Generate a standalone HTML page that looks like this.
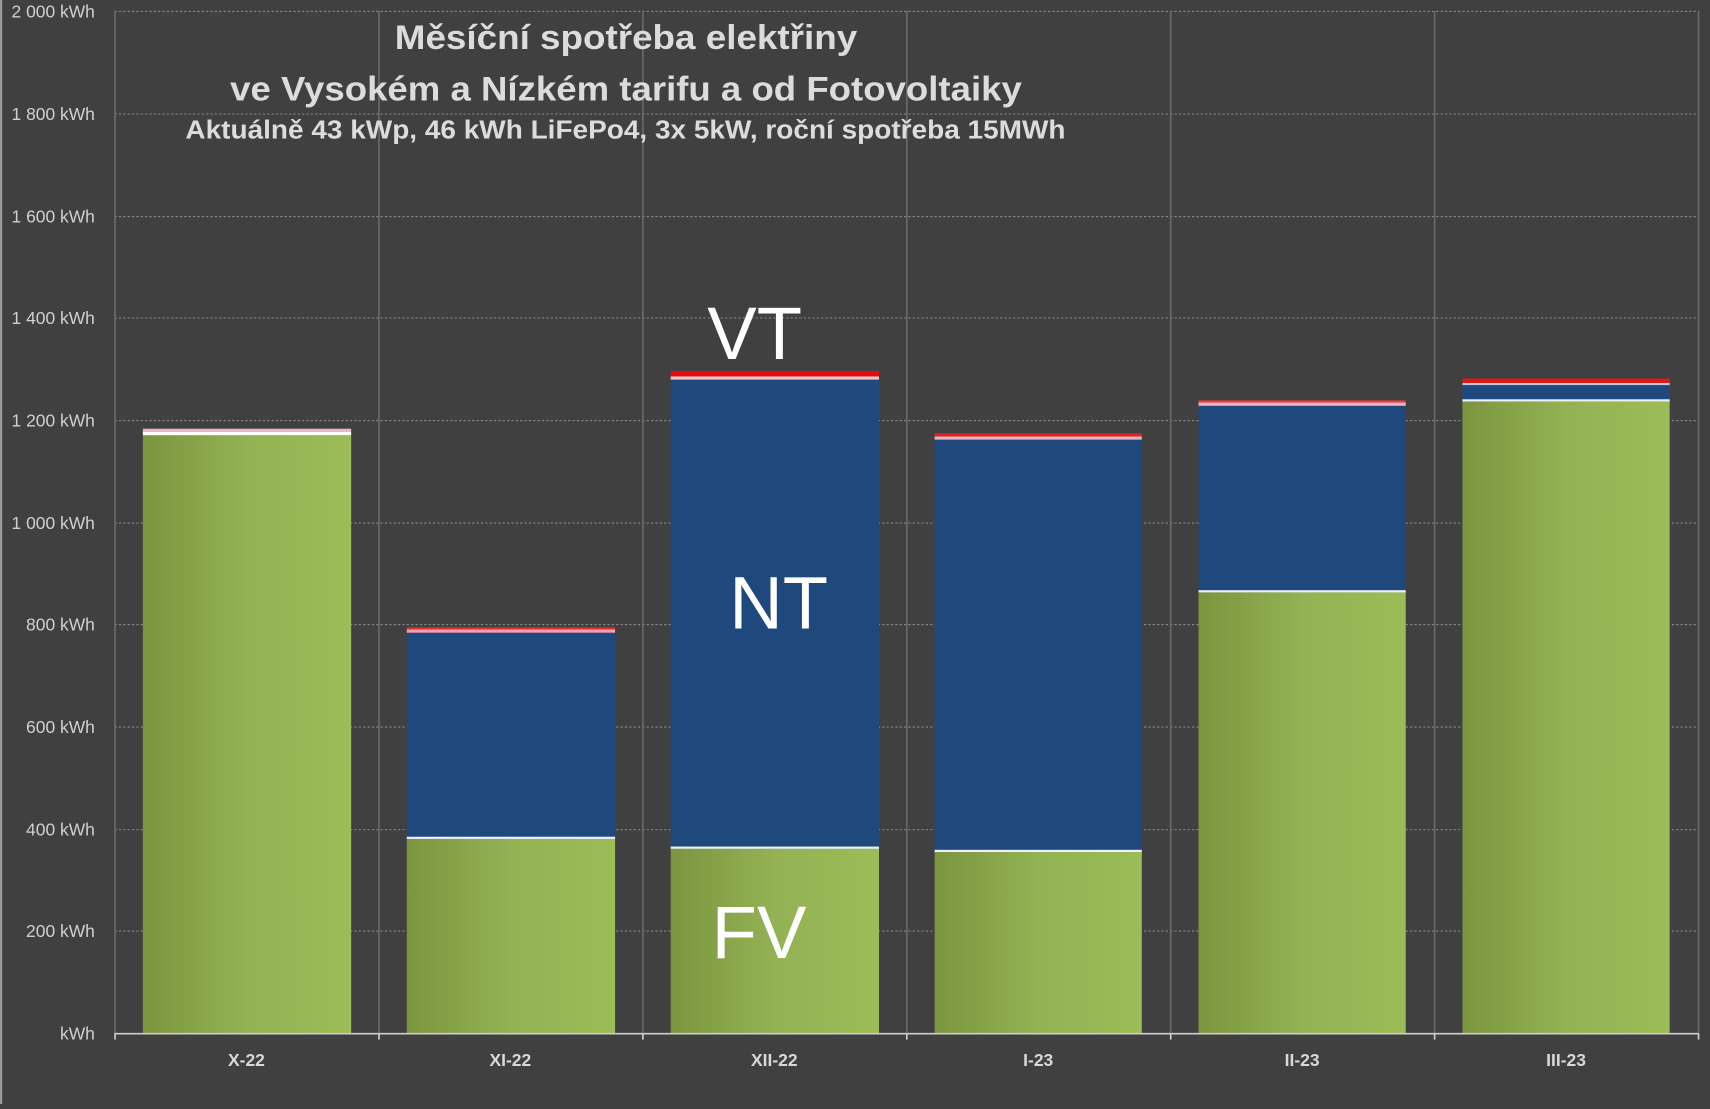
<!DOCTYPE html>
<html><head><meta charset="utf-8"><style>html,body{margin:0;padding:0;background:#404040;overflow:hidden}</style></head>
<body>
<svg width="1710" height="1104" viewBox="0 0 1568 1012" xmlns="http://www.w3.org/2000/svg" preserveAspectRatio="none">
<defs>
<linearGradient id="g" x1="0" x2="1" y1="0" y2="0"><stop offset="0" stop-color="#7b953f"/><stop offset="0.5" stop-color="#93b254"/><stop offset="1" stop-color="#9bbc57"/></linearGradient>
</defs>
<rect width="1568" height="1012" fill="#404040"/>
<rect x="0" y="0" width="2" height="1012" fill="#9a9a9a"/>
<g stroke="#8a8a8a" stroke-width="1" stroke-dasharray="2,2">
<line x1="105" x2="1557" y1="10.5" y2="10.5"/><line x1="105" x2="1557" y1="104.5" y2="104.5"/><line x1="105" x2="1557" y1="198.5" y2="198.5"/><line x1="105" x2="1557" y1="291.5" y2="291.5"/><line x1="105" x2="1557" y1="385.5" y2="385.5"/><line x1="105" x2="1557" y1="479.5" y2="479.5"/><line x1="105" x2="1557" y1="572.5" y2="572.5"/><line x1="105" x2="1557" y1="666.5" y2="666.5"/><line x1="105" x2="1557" y1="760.5" y2="760.5"/><line x1="105" x2="1557" y1="853.5" y2="853.5"/>
</g>
<g stroke="#6a6a6a" stroke-width="1.5">
<line x1="105.5" x2="105.5" y1="10" y2="947"/><line x1="347.5" x2="347.5" y1="10" y2="947"/><line x1="589.5" x2="589.5" y1="10" y2="947"/><line x1="831.5" x2="831.5" y1="10" y2="947"/><line x1="1073.5" x2="1073.5" y1="10" y2="947"/><line x1="1315.5" x2="1315.5" y1="10" y2="947"/><line x1="1557.5" x2="1557.5" y1="10" y2="947"/>
</g>
<g fill="#d0d0d0" font-family="Liberation Sans, sans-serif" font-size="16" text-anchor="end">
<text x="87" y="16">2 000 kWh</text><text x="87" y="110">1 800 kWh</text><text x="87" y="204">1 600 kWh</text><text x="87" y="297">1 400 kWh</text><text x="87" y="391">1 200 kWh</text><text x="87" y="485">1 000 kWh</text><text x="87" y="578">800 kWh</text><text x="87" y="672">600 kWh</text><text x="87" y="766">400 kWh</text><text x="87" y="859">200 kWh</text><text x="87" y="953">kWh</text>
</g>
<g>
<rect x="131" y="399" width="191" height="548" fill="url(#g)"/>
<rect x="131" y="396" width="191" height="3" fill="#fff"/><rect x="131" y="393" width="191" height="3" fill="#e8b8c8"/>

<rect x="373" y="768" width="191" height="179" fill="url(#g)"/>
<rect x="373" y="580" width="191" height="188" fill="#1f497d"/>
<rect x="373" y="767" width="191" height="2" fill="#eef"/>
<rect x="373" y="577" width="191" height="3" fill="#f0a0b0"/><rect x="373" y="575" width="191" height="2" fill="#e03030"/>

<rect x="615" y="777" width="191" height="170" fill="url(#g)"/>
<rect x="615" y="348" width="191" height="429" fill="#1f497d"/>
<rect x="615" y="776" width="191" height="2" fill="#eef"/>
<rect x="615" y="345" width="191" height="3" fill="#f4c0c8"/><rect x="615" y="340" width="191" height="5" fill="#e01010"/>

<rect x="857" y="780" width="190" height="167" fill="url(#g)"/>
<rect x="857" y="402" width="190" height="378" fill="#1f497d"/>
<rect x="857" y="779" width="190" height="2" fill="#eef"/>
<rect x="857" y="400" width="190" height="3" fill="#f0b0c0"/><rect x="857" y="397" width="190" height="3" fill="#e02020"/>

<rect x="1099" y="542" width="190" height="405" fill="url(#g)"/>
<rect x="1099" y="371" width="190" height="171" fill="#1f497d"/>
<rect x="1099" y="541" width="190" height="2" fill="#eef"/>
<rect x="1099" y="369" width="190" height="3" fill="#f0b0c0"/><rect x="1099" y="367" width="190" height="2" fill="#e04040"/>

<rect x="1341" y="367" width="190" height="580" fill="url(#g)"/>
<rect x="1341" y="353" width="190" height="14" fill="#1f497d"/>
<rect x="1341" y="366" width="190" height="2" fill="#eef"/>
<rect x="1341" y="351" width="190" height="2" fill="#c0c8e8"/><rect x="1341" y="347" width="190" height="4" fill="#e01818"/>
</g>
<line x1="105" x2="1557" y1="947.5" y2="947.5" stroke="#cfcfcf" stroke-width="1.5"/>
<g stroke="#cfcfcf" stroke-width="1.5">
<line x1="105.5" x2="105.5" y1="947" y2="953"/><line x1="347.5" x2="347.5" y1="947" y2="953"/><line x1="589.5" x2="589.5" y1="947" y2="953"/><line x1="831.5" x2="831.5" y1="947" y2="953"/><line x1="1073.5" x2="1073.5" y1="947" y2="953"/><line x1="1315.5" x2="1315.5" y1="947" y2="953"/><line x1="1557.5" x2="1557.5" y1="947" y2="953"/>
</g>
<g fill="#d8d8d8" font-family="Liberation Sans, sans-serif" font-size="16" font-weight="bold" text-anchor="middle">
<text x="226" y="977">X-22</text><text x="468" y="977">XI-22</text><text x="710" y="977">XII-22</text><text x="952" y="977">I-23</text><text x="1194" y="977">II-23</text><text x="1436" y="977">III-23</text>
</g>
<g fill="#dcdcdc" font-family="Liberation Sans, sans-serif" font-weight="bold">
<text x="362" y="45" font-size="31" textLength="424" lengthAdjust="spacingAndGlyphs">Měsíční spotřeba elektřiny</text>
<text x="211" y="92" font-size="31" textLength="726" lengthAdjust="spacingAndGlyphs">ve Vysokém a Nízkém tarifu a od Fotovoltaiky</text>
<text x="170" y="127" font-size="24" textLength="807" lengthAdjust="spacingAndGlyphs">Aktuálně 43 kWp, 46 kWh LiFePo4, 3x 5kW, roční spotřeba 15MWh</text>
</g>
<g fill="#fff" font-family="Liberation Sans, sans-serif" font-size="68" text-anchor="middle">
<text x="692" y="329">VT</text>
<text x="714" y="576">NT</text>
<text x="696" y="878">FV</text>
</g>
</svg>
</body></html>
